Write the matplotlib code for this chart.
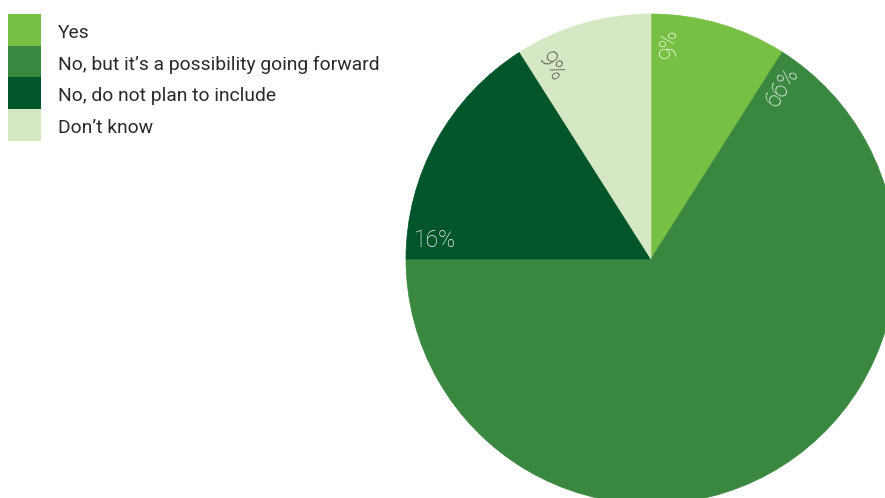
import numpy as np
import matplotlib
matplotlib.use('Agg')
import matplotlib.pyplot as plt
from matplotlib.patches import Rectangle

# Data
categories = ['Yes', 'No, but it\u2019s a possibility going forward',
              'No, do not plan to include', 'Don\u2019t know']
values = [9, 66, 16, 9]
colors = ['#77c043', '#3a873f', '#00552a', '#d6e8c3']
label_colors = ['white', 'white', 'white', '#333333']

plt.rcParams['font.family'] = ['Roboto', 'DejaVu Sans']

fig = plt.figure(figsize=(8.85, 4.98), dpi=100)

# Pie axes: centre at (651, 259 from top), radius 245 px
W, H = 885, 498
cx, cy, R = 651, H - 259, 245
ax = fig.add_axes([(cx - R) / W, (cy - R) / H, 2 * R / W, 2 * R / H])
ax.pie(values, colors=colors, startangle=90, counterclock=False, radius=1,
       wedgeprops=dict(linewidth=0.5))
for w, c in zip(ax.patches, colors):
    w.set_edgecolor(c)
ax.set_xlim(-1, 1)
ax.set_ylim(-1, 1)
ax.set_aspect('equal')
ax.axis('off')

# Percentage labels placed along the start edge of each slice
total = sum(values)
cum = 0
for v, lc in zip(values, label_colors):
    theta = 90 - 360 * cum / total
    theta = (theta + 180) % 360 - 180
    if theta == -180:
        theta = 180
    t = np.radians(theta)
    r, off = 0.88, 0.075
    x = r * np.cos(t) + off * np.sin(t)
    y = r * np.sin(t) - off * np.cos(t)
    rot = theta
    if rot > 90:
        rot -= 180
    elif rot < -90:
        rot += 180
    ax.text(x, y, f'{v}%', color=lc, fontsize=16.5, fontweight='light',
            rotation=rot, rotation_mode='anchor', ha='center', va='center')
    cum += v

# Legend drawn manually
box_x, box_w = 8, 33
top = 14
box_h = 31.7
for i, (cat, col) in enumerate(zip(categories, colors)):
    y0 = top + i * box_h
    fig.patches.append(Rectangle((box_x / W, 1 - (y0 + box_h) / H), box_w / W, box_h / H,
                                 transform=fig.transFigure, facecolor=col,
                                 edgecolor='none'))
    fig.text(58 / W, 1 - (y0 + box_h / 2 + 3) / H, cat, fontsize=13.9,
             color='#2a2a2a', va='center', ha='left')

fig.savefig('out.png', dpi=100)
